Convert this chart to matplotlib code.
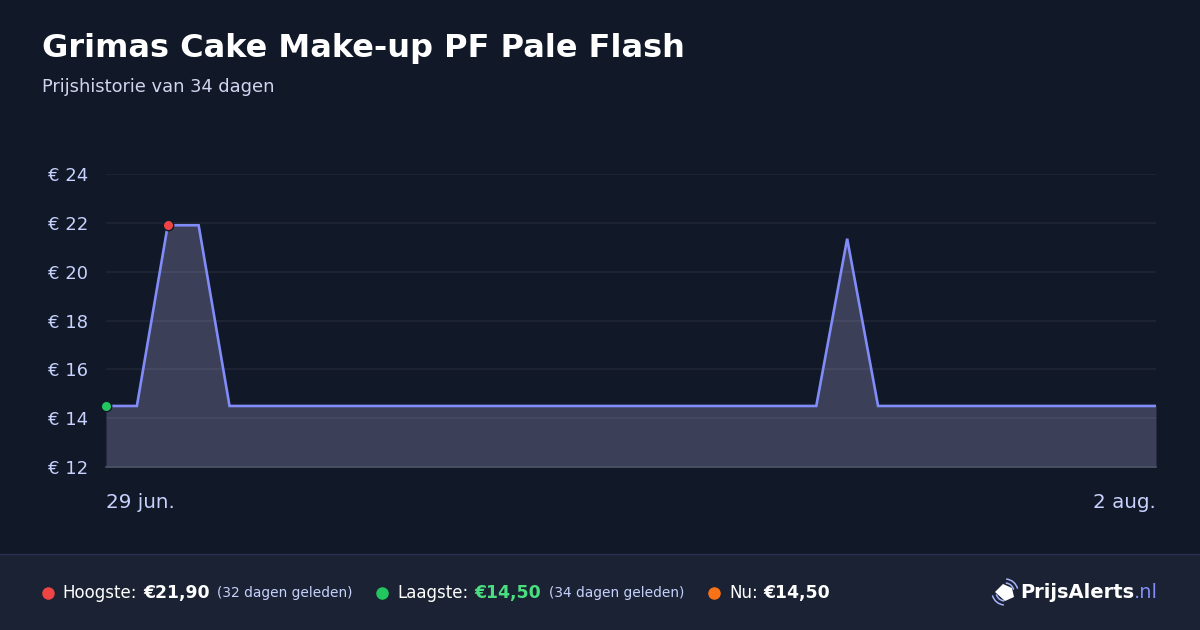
import matplotlib
matplotlib.use("Agg")
import matplotlib.pyplot as plt
from matplotlib.patches import Rectangle, Polygon, Arc

plt.rcParams["font.family"] = ["DejaVu Sans"]

# =====================
#   DATA
# =====================
TITLE = "Grimas Cake Make-up PF Pale Flash"
SUBTITLE = "Prijshistorie van 34 dagen"
DAYS = list(range(35))  # 29 jun. .. 2 aug.
PRICES = [14.50, 14.50, 21.90, 21.90] + [14.50] * 20 + [21.35] + [14.50] * 10
Y_TICKS = [12, 14, 16, 18, 20, 22, 24]
X_LABELS = ["29 jun.", "2 aug."]
HIGH_IDX = 2
LOW_IDX = 0

# =====================
#   COLOURS
# =====================
BG = "#111827"
FOOTER_BG = "#1a2233"
LINE = "#818cf8"
TICK = "#c7d2fe"
MUTED = "#a5b4fc"

W, H = 1200, 630
fig = plt.figure(figsize=(W / 100, H / 100), dpi=100, facecolor=BG)

def px(x, y):
    return x / W, 1 - y / H

# header
fig.text(*px(42, 48), TITLE, color="white", fontsize=23, fontweight="bold",
         va="center", ha="left")
fig.text(*px(42, 87), SUBTITLE, color="#d1d5f0", fontsize=12.9, va="center", ha="left")

# chart
ax = fig.add_axes([106 / W, 1 - 467 / H, 1050 / W, 293 / H])
ax.set_facecolor(BG)
ax.fill_between(DAYS, PRICES, 12, color="#9d9aca", alpha=0.3, linewidth=0, zorder=1)
ax.plot(DAYS, PRICES, color=LINE, linewidth=1.9, zorder=3, solid_joinstyle="miter")
ax.plot(DAYS[LOW_IDX], PRICES[LOW_IDX], "o", color="#22c55e", markersize=7.5,
        markeredgecolor=BG, markeredgewidth=1, zorder=4, clip_on=False)
ax.plot(DAYS[HIGH_IDX], PRICES[HIGH_IDX], "o", color="#ef4444", markersize=7.5,
        markeredgecolor=BG, markeredgewidth=1, zorder=4, clip_on=False)

ax.set_xlim(DAYS[0], DAYS[-1])
ax.set_ylim(Y_TICKS[0], Y_TICKS[-1])
ax.set_yticks(Y_TICKS)
ax.set_yticklabels([f"€ {t}" for t in Y_TICKS])
ax.set_xticks([])
for t in Y_TICKS[1:]:
    ax.axhline(t, color="white", alpha=0.06, linewidth=1.2, zorder=2)
ax.axhline(Y_TICKS[0], color="#4b5563", linewidth=1.2, zorder=2, clip_on=False)
ax.tick_params(axis="y", length=0, pad=13, labelsize=13, labelcolor=TICK)
for s in ax.spines.values():
    s.set_visible(False)

fig.text(*px(106, 503), X_LABELS[0], color=TICK, fontsize=14.3, va="center", ha="left")
fig.text(*px(1156, 503), X_LABELS[1], color=TICK, fontsize=14.3, va="center", ha="right")

# footer
fig.patches.append(Rectangle((0, 0), 1, 76 / H, transform=fig.transFigure,
                             facecolor=FOOTER_BG, edgecolor="none", zorder=-1))
fig.lines.append(plt.Line2D([0, 1], [76 / H, 76 / H], transform=fig.transFigure,
                            color="#273152", linewidth=1))

FY = 593
def dot(x, c):
    fig.lines.append(plt.Line2D([x / W], [1 - FY / H], transform=fig.transFigure,
                                marker="o", markersize=8, color=c, linestyle="none"))

dot(48, "#ef4444")
fig.text(*px(62, FY), "Hoogste:", color="white", fontsize=12, va="center")
fig.text(*px(143, FY), f"€{PRICES[HIGH_IDX]:.2f}".replace(".", ","), color="white",
         fontsize=12.4, fontweight="bold", va="center")
fig.text(*px(217, FY), f"({DAYS[-1] - DAYS[HIGH_IDX]} dagen geleden)", color=TICK,
         fontsize=9.9, va="center")
dot(382, "#22c55e")
fig.text(*px(397, FY), "Laagste:", color="white", fontsize=12, va="center")
fig.text(*px(474, FY), f"€{PRICES[LOW_IDX]:.2f}".replace(".", ","), color="#4ade80",
         fontsize=12.4, fontweight="bold", va="center")
fig.text(*px(549, FY), f"({DAYS[-1] - DAYS[LOW_IDX]} dagen geleden)", color=TICK,
         fontsize=9.9, va="center")
dot(714, "#f97316")
fig.text(*px(729, FY), "Nu:", color="white", fontsize=12, va="center")
fig.text(*px(763, FY), f"€{PRICES[-1]:.2f}".replace(".", ","), color="white",
         fontsize=12.4, fontweight="bold", va="center")

# logo
lx = fig.text(*px(1158, FY), ".nl", color="#818cf8", fontsize=14, va="center", ha="right")
fig.canvas.draw()
bb = lx.get_window_extent()
fig.text(bb.x0 / W, 1 - FY / H, "PrijsAlerts", color="white", fontsize=14,
         fontweight="bold", va="center", ha="right")

# tag icon
ic = fig.add_axes([980 / W, 1 - 610 / H, 45 / W, 35 / H], zorder=3)
ic.set_xlim(980, 1025)
ic.set_ylim(610, 575)
ic.axis("off")
ic.add_patch(Polygon([(995, 592), (1003, 584), (1012, 588), (1014, 597), (1005, 601)],
                     closed=True, facecolor="white", edgecolor="none"))
for r in (9, 13):
    ic.add_patch(Arc((1005, 592), 2 * r, 2 * r, theta1=-85, theta2=-15, color=MUTED, lw=1.1))
    ic.add_patch(Arc((1005, 592), 2 * r, 2 * r, theta1=95, theta2=165, color=MUTED, lw=1.1))

fig.savefig("out.png", dpi=100, facecolor=BG)
